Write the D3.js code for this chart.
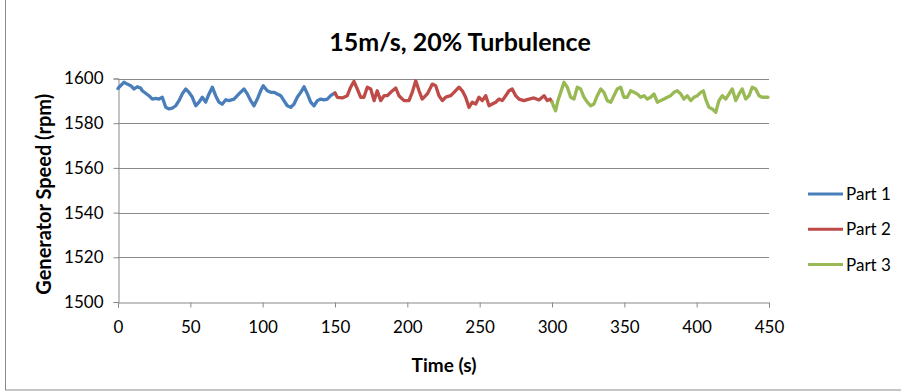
<!DOCTYPE html>
<html>
<head>
<meta charset="utf-8">
<script src="https://cdn.jsdelivr.net/npm/d3@7"></script>
<style>
  html, body { margin: 0; padding: 0; background: #fff; }
  svg { display: block; }
  text { font-family: Lato, "Open Sans", sans-serif; fill: #000; }
</style>
</head>
<body>
<svg id="chart" width="901" height="392"></svg>
<script>
// Generator speed (rpm) over time (s), recorded in three consecutive parts
const part1Time = [0, 0.7, 4.1, 6.4, 8.8, 11.1, 13.3, 15.7, 16.8, 19.1, 21.4, 23.7, 26.1, 28.3, 30.6, 33.0, 35.3, 37.5, 39.9, 42.2, 44.4, 46.8, 49.1, 51.4, 53.7, 56.0, 58.3, 60.6, 62.9, 65.2, 67.5, 69.8, 72.0, 74.5, 76.7, 80.2, 83.6, 87.1, 89.4, 91.7, 94.0, 96.3, 98.6, 100.4, 103.2, 105.6, 107.8, 110.1, 112.5, 114.7, 117.0, 119.4, 121.7, 123.9, 126.3, 128.6, 130.9, 133.2, 135.5, 137.8, 140.1, 142.4, 144.7, 147.0, 148.8, 150];
const part1Speed = [1595.5, 1596.1, 1598.3, 1597.5, 1596.8, 1595.3, 1596.3, 1595.7, 1594.5, 1593.4, 1592.3, 1590.8, 1591.1, 1590.8, 1591.6, 1587.1, 1586.4, 1586.7, 1587.8, 1590.1, 1593.1, 1595.3, 1593.8, 1591.6, 1587.8, 1589.4, 1591.6, 1589.4, 1593.1, 1596.1, 1592.3, 1589.4, 1588.5, 1590.5, 1590.1, 1590.8, 1593.1, 1595.3, 1593.1, 1590.1, 1587.8, 1590.8, 1594.5, 1596.8, 1594.5, 1593.8, 1593.8, 1593.1, 1592.3, 1590.1, 1587.8, 1587.1, 1588.6, 1591.6, 1593.8, 1596.3, 1593.1, 1589.4, 1587.8, 1590.1, 1590.8, 1590.4, 1590.8, 1592.3, 1593.1, 1593.5];

const part2Time = [150, 151.6, 155.0, 158.5, 160.8, 163.1, 165.4, 167.8, 170.0, 172.3, 174.7, 177.0, 179.2, 181.6, 183.9, 186.1, 188.5, 192.0, 194.2, 197.7, 201.1, 203.4, 205.8, 208.1, 210.3, 213.8, 217.3, 219.6, 221.9, 224.2, 226.5, 227.6, 229.9, 232.3, 235.7, 238.0, 240.3, 242.6, 244.9, 247.3, 249.5, 251.8, 254.2, 256.5, 258.7, 261.1, 263.4, 265.6, 268.0, 270.3, 272.5, 274.9, 277.2, 280.6, 284.1, 287.5, 291.0, 294.5, 296.7, 298.6, 300];
const part2Speed = [1593.5, 1591.6, 1591.3, 1592.3, 1596.1, 1598.7, 1595.3, 1591.6, 1591.6, 1596.1, 1595.3, 1590.1, 1594.5, 1590.1, 1592.3, 1592.3, 1593.8, 1595.7, 1592.3, 1590.1, 1590.1, 1593.8, 1599.0, 1594.5, 1590.8, 1593.1, 1597.5, 1596.8, 1592.3, 1590.1, 1591.6, 1591.9, 1592.3, 1593.8, 1596.1, 1594.5, 1591.6, 1587.1, 1589.4, 1588.6, 1591.6, 1590.1, 1592.3, 1587.8, 1588.6, 1589.4, 1590.8, 1590.1, 1592.3, 1594.5, 1595.3, 1592.3, 1590.8, 1590.1, 1590.8, 1591.3, 1590.4, 1592.3, 1590.1, 1590.8, 1589.5];

const part3Time = [300, 301.4, 302.5, 304.1, 306.0, 308.3, 310.6, 312.9, 315.2, 317.5, 319.8, 322.1, 324.4, 326.7, 329.0, 331.3, 333.7, 335.9, 338.2, 340.6, 342.8, 345.1, 347.5, 349.7, 352.0, 354.4, 356.7, 358.9, 361.3, 363.6, 365.9, 368.2, 370.5, 372.8, 375.1, 377.4, 379.7, 382.0, 384.3, 386.6, 389.0, 391.2, 393.5, 395.9, 398.1, 400.4, 402.8, 404.6, 406.2, 408.5, 410.8, 413.2, 415.4, 417.7, 420.1, 422.4, 424.6, 427.0, 429.3, 431.5, 433.9, 436.2, 438.4, 440.8, 443.1, 445.3, 447.7, 449.3];
const part3Speed = [1589.5, 1587.1, 1585.6, 1590.1, 1593.8, 1598.3, 1596.1, 1591.6, 1590.8, 1596.1, 1595.3, 1591.6, 1589.4, 1587.8, 1588.6, 1592.3, 1595.3, 1593.8, 1590.1, 1589.4, 1592.3, 1595.3, 1596.1, 1591.6, 1591.6, 1594.5, 1593.8, 1593.1, 1591.6, 1592.3, 1590.8, 1591.6, 1593.1, 1589.4, 1590.1, 1590.8, 1591.6, 1592.3, 1593.8, 1594.5, 1593.1, 1590.8, 1592.3, 1590.1, 1591.6, 1592.3, 1593.8, 1594.5, 1590.8, 1587.1, 1586.4, 1584.9, 1590.1, 1592.3, 1590.8, 1593.1, 1595.3, 1590.1, 1593.1, 1595.3, 1590.8, 1592.3, 1596.1, 1595.3, 1592.3, 1591.6, 1591.6, 1591.6];

const seriesNames = ["Part 1", "Part 2", "Part 3"];
const seriesColors = ["#4A7EBB", "#BE4B48", "#98B954"];
const xTicks = [0, 50, 100, 150, 200, 250, 300, 350, 400, 450];
const yTicks = [1500, 1520, 1540, 1560, 1580, 1600];

const chartTitle = "15m/s, 20% Turbulence";
const xTitle = "Time (s)";
const yTitle = "Generator Speed (rpm)";

const series = [
  { name: seriesNames[0], color: seriesColors[0], t: part1Time, v: part1Speed },
  { name: seriesNames[1], color: seriesColors[1], t: part2Time, v: part2Speed },
  { name: seriesNames[2], color: seriesColors[2], t: part3Time, v: part3Speed }
];

const svg = d3.select("#chart");
const plot = { left: 118, right: 769, top: 78.5, bottom: 302 };

const x = d3.scaleLinear().domain([0, 450]).range([plot.left, plot.right]);
const y = d3.scaleLinear().domain([1500, 1600]).range([plot.bottom, plot.top]);

const gridColor = "#898989";
const tickFont = "17px";

// chart frame
svg.append("rect")
  .attr("x", 5.5).attr("y", -2)
  .attr("width", 1000).attr("height", 392)
  .attr("fill", "none").attr("stroke", "#8c8c8c").attr("stroke-width", 1);

// horizontal gridlines
svg.append("g")
  .selectAll("line")
  .data(yTicks.filter(d => d !== 1500))
  .join("line")
  .attr("x1", plot.left).attr("x2", plot.right)
  .attr("y1", d => Math.round(y(d)) + 0.5).attr("y2", d => Math.round(y(d)) + 0.5)
  .attr("stroke", gridColor).attr("stroke-width", 1);

// y axis
const yAxis = svg.append("g")
  .attr("transform", `translate(${plot.left + 0.5},0)`)
  .call(d3.axisLeft(y).tickValues(yTicks).tickSize(5).tickPadding(10).tickFormat(d3.format("d")));
yAxis.select(".domain").attr("stroke", gridColor);
yAxis.selectAll(".tick line").attr("stroke", gridColor);
yAxis.selectAll(".tick text").style("font-size", tickFont).style("font-family", "Lato, 'Open Sans', sans-serif").attr("fill", "#000");

// x axis
const xAxis = svg.append("g")
  .attr("transform", `translate(0,${Math.round(plot.bottom) + 0.5})`)
  .call(d3.axisBottom(x).tickValues(xTicks).tickSize(5).tickPadding(13).tickFormat(d3.format("d")));
xAxis.select(".domain").attr("stroke", gridColor);
xAxis.selectAll(".tick line").attr("stroke", gridColor);
xAxis.selectAll(".tick text").style("font-size", tickFont).style("font-family", "Lato, 'Open Sans', sans-serif").attr("fill", "#000");

// series lines
const line = d3.line()
  .x(d => x(d[0]))
  .y(d => y(d[1]));

svg.append("g")
  .selectAll("path")
  .data(series)
  .join("path")
  .attr("d", s => line(d3.zip(s.t, s.v)))
  .attr("fill", "none")
  .attr("stroke", s => s.color)
  .attr("stroke-width", 3.3)
  .attr("stroke-linejoin", "round")
  .attr("stroke-linecap", "round");

// title
svg.append("text")
  .attr("x", 460).attr("y", 51)
  .attr("text-anchor", "middle")
  .style("font-size", "25px").style("font-weight", "bold")
  .text(chartTitle);

// axis titles
svg.append("text")
  .attr("x", 444).attr("y", 372)
  .attr("text-anchor", "middle")
  .style("font-size", "19px").style("font-weight", "bold")
  .text(xTitle);

svg.append("text")
  .attr("transform", `translate(51,${(plot.top + plot.bottom) / 2 + 4}) rotate(-90)`)
  .attr("text-anchor", "middle")
  .style("font-size", "20px").style("font-weight", "bold")
  .text(yTitle);

// legend
const legend = svg.append("g")
  .selectAll("g")
  .data(series)
  .join("g")
  .attr("transform", (d, i) => `translate(808,${194 + i * 35.3})`);

legend.append("line")
  .attr("x1", 0).attr("x2", 35)
  .attr("y1", 0).attr("y2", 0)
  .attr("stroke", d => d.color).attr("stroke-width", 3);

legend.append("text")
  .attr("x", 38).attr("y", 6)
  .style("font-size", "17px")
  .text(d => d.name);
</script>
</body>
</html>
